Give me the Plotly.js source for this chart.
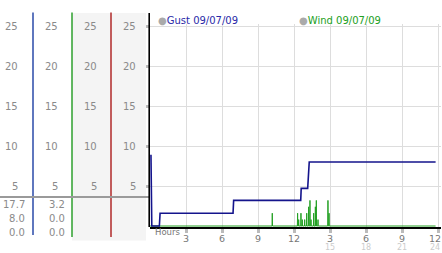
<!DOCTYPE html>
<html>
<head>
<meta charset="utf-8">
<script src="https://cdn.plot.ly/plotly-3.0.1.min.js"></script>
<style>html,body{margin:0;padding:0;background:#fff;}#chart{width:442px;height:253px;}</style>
</head>
<body>
<div id="chart"></div>
<script>
// ---- data ----
const gustName = "Gust 09/07/09";
const windName = "Wind 09/07/09";
const gustHours = [0.08, 0.15, 0.78, 0.84, 6.92, 6.97, 12.56, 12.60, 13.14, 13.22, 13.27, 23.8];
const gustSpeed = [8.9, 0, 0, 1.6, 1.6, 3.2, 3.2, 4.7, 4.7, 7.0, 8.0, 8.0];
const windHours = [0, 10.17, 10.19, 10.21, 12.28, 12.30, 12.32, 12.37, 12.39, 12.41, 12.56, 12.58, 12.60,
  12.67, 12.69, 12.71, 12.87, 12.89, 12.91, 13.04, 13.06, 13.08, 13.20, 13.22, 13.24, 13.31, 13.33, 13.35,
  13.40, 13.42, 13.44, 13.62, 13.64, 13.66, 13.76, 13.78, 13.80, 13.84, 13.86, 13.88, 13.98, 14.00, 14.02,
  14.81, 14.83, 14.85, 14.90, 14.92, 14.94, 23.8];
const windSpeed = [0, 0, 1.6, 0, 0, 1.6, 0, 0, 0.8, 0, 0, 1.6, 0,
  0, 0.8, 0, 0, 0.8, 0, 0, 1.6, 0, 0, 2.4, 0, 0, 3.2, 0,
  0, 0.8, 0, 0, 1.6, 0, 0, 2.4, 0, 0, 3.2, 0, 0, 0.8, 0,
  0, 3.2, 0, 0, 1.6, 0, 0];
const hourTicks = [3, 6, 9, 12, 15, 18, 21, 24];
const hourLabels = ["3", "6", "9", "12", "3", "6", "9", "12"];
const hourTicks2 = [15, 18, 21, 24];
const hourLabels2 = ["15", "18", "21", "24"];
const speedTicks = [5, 10, 15, 20, 25];
const speedLabels = ["5", "10", "15", "20", "25"];
const gustStats = ["17.7", "8.0", "0.0"];
const windStats = ["3.2", "0.0", "0.0"];

// ---- geometry helpers (pixel -> paper) ----
const L = 150, W = 291, B = 227, H = 203;
const px = x => (x - L) / W;
const py = y => (B - y) / H;
const FONT = "DejaVu Sans, Verdana, sans-serif";

const annotations = [];
const shapes = [];

// background for columns 3 & 4
shapes.push({type: "rect", xref: "paper", yref: "paper", x0: px(72), x1: px(146), y0: py(240.5), y1: py(13),
  fillcolor: "#f4f4f4", line: {width: 0}, layer: "below"});
// colored column separators
[[33, 235, "#2a4aa8"], [72, 237, "#2ea02e"], [111, 237, "#b02a2a"]].forEach(([x, yb, c]) => {
  shapes.push({type: "line", xref: "paper", yref: "paper", x0: px(x), x1: px(x), y0: py(12.5), y1: py(yb),
    line: {color: c, width: 1.5}});
});
// gray divider
shapes.push({type: "line", xref: "paper", yref: "paper", x0: px(0), x1: px(149), y0: py(197), y1: py(197),
  line: {color: "#9a9a9a", width: 2}});
// black y axis (extends above plot)
shapes.push({type: "line", xref: "paper", yref: "paper", x0: px(149.2), x1: px(149.2), y0: py(227), y1: py(13),
  line: {color: "#000", width: 1.6}});

// left column tick labels
[20, 60, 99, 138].forEach(r => {
  speedTicks.forEach((v, i) => {
    annotations.push({xref: "paper", yref: "y", x: px(r), y: v, xanchor: "right", yanchor: "middle",
      text: speedLabels[i], showarrow: false, font: {family: FONT, size: 10, color: "#8a8a8a"}});
  });
});
// stats rows
const rowsY = [204, 218, 232];
[[27, gustStats], [67, windStats]].forEach(([r, arr]) => {
  arr.forEach((t, i) => {
    annotations.push({xref: "paper", yref: "paper", x: px(r), y: py(rowsY[i]), xanchor: "right", yanchor: "middle",
      text: t, showarrow: false, font: {family: FONT, size: 10, color: "#8a8a8a"}});
  });
});
// legend
[[156, gustName, "#2a2aa8"], [297, windName, "#22a022"]].forEach(([x, t, c]) => {
  annotations.push({xref: "paper", yref: "paper", x: px(x), y: py(20), xanchor: "left", yanchor: "middle",
    text: "<span style='color:#aaaaaa'>●</span>" + t, showarrow: false, font: {family: FONT, size: 10, color: c}});
});
// Hours label
annotations.push({xref: "paper", yref: "paper", x: px(153), y: py(232), xanchor: "left", yanchor: "middle",
  text: "Hours", showarrow: false, font: {family: FONT, size: 8.5, color: "#777"}});
// first row of hour labels
hourTicks.forEach((h, i) => {
  annotations.push({xref: "x", yref: "paper", x: h, y: py(238.5), xanchor: "center", yanchor: "middle",
    xshift: i === hourTicks.length - 1 ? -3 : 0,
    text: hourLabels[i], showarrow: false, font: {family: FONT, size: 9.5, color: "#777"}});
});
// second row of hour labels
hourTicks2.forEach((h, i) => {
  annotations.push({xref: "x", yref: "paper", x: h, y: py(247.5), xanchor: "center", yanchor: "middle",
    xshift: i === hourTicks2.length - 1 ? -3 : 0,
    text: hourLabels2[i], showarrow: false, font: {family: FONT, size: 8, color: "#cccccc"}});
});

const traces = [
  {x: windHours, y: windSpeed, type: "scatter", mode: "lines", name: windName,
   line: {color: "#22a022", width: 1}, hoverinfo: "skip"},
  {x: gustHours, y: gustSpeed, type: "scatter", mode: "lines", name: gustName,
   line: {color: "#14148c", width: 1.6}, hoverinfo: "skip"}
];

const layout = {
  width: 442, height: 253,
  margin: {l: L, r: 1, t: 24, b: 26, pad: 0},
  paper_bgcolor: "#fff", plot_bgcolor: "#fff",
  showlegend: false,
  font: {family: FONT, size: 10, color: "#777"},
  xaxis: {range: [0, 24.25], tickvals: hourTicks, showticklabels: false, ticks: "outside", ticklen: 4,
    tickwidth: 3, tickcolor: "#bbbbbb", showgrid: true, gridcolor: "#dddddd", gridwidth: 1,
    showline: true, linecolor: "#000", linewidth: 2, zeroline: false, fixedrange: true},
  yaxis: {range: [-0.125, 25.25], tickvals: speedTicks, showticklabels: false, ticks: "outside", ticklen: 3,
    tickwidth: 3, tickcolor: "#bbbbbb", showgrid: true, gridcolor: "#dddddd", gridwidth: 1,
    showline: false, zeroline: false, fixedrange: true},
  shapes: shapes,
  annotations: annotations
};

Plotly.newPlot("chart", traces, layout, {displayModeBar: false, staticPlot: true});
</script>
</body>
</html>
